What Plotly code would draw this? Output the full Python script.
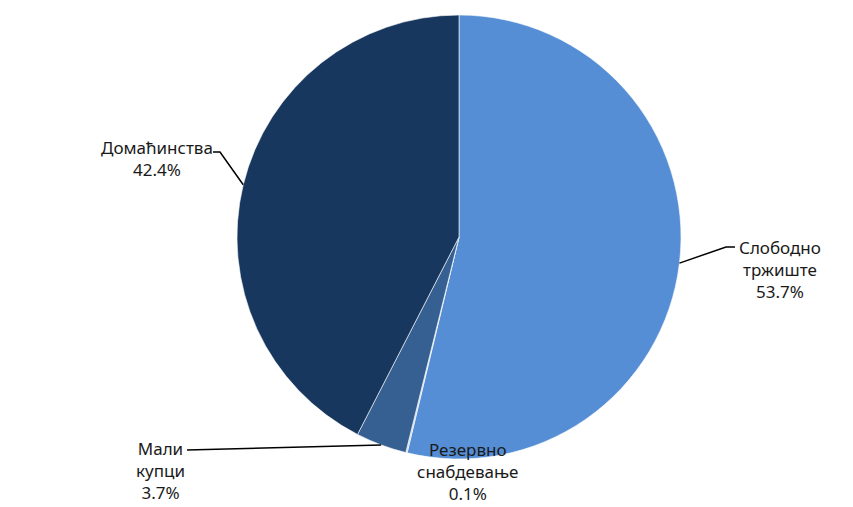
import math
import plotly.graph_objects as go

# Distribution of consumption by supply category
labels = ["Слободно тржиште", "Резервно снабдевање", "Мали купци", "Домаћинства"]
values = [53.7, 0.1, 3.7, 42.4]
label_text = ["Слободно<br>тржиште<br>53.7%", "Резервно<br>снабдевање<br>0.1%",
              "Мали<br>купци<br>3.7%", "Домаћинства<br>42.4%"]
colors = ["#558ED5", "#B9CDE5", "#376092", "#17375E"]

W, H = 853, 507
CX, CY, R = 459, 237, 222  # pie centre and radius in pixels

FONT = dict(family="Noto Sans, Open Sans, sans-serif", size=17, color="#1a1a1a")

fig = go.Figure(go.Pie(
    labels=labels,
    values=values,
    sort=False,
    direction="clockwise",
    rotation=0,
    marker=dict(colors=colors, line=dict(color="white", width=0.6)),
    textinfo="none",
    hoverinfo="label+percent",
    showlegend=False,
    domain=dict(x=[(CX - R) / W, (CX + R) / W], y=[1 - (CY + R) / H, 1 - (CY - R) / H]),
))


def px(x, y):
    return x / W, 1 - y / H


def edge_point(i):
    """Pixel point on the rim at the middle angle of slice i."""
    total = sum(values)
    start = sum(values[:i]) / total
    mid = (start + values[i] / total / 2) * 2 * math.pi
    return CX + R * math.sin(mid), CY - R * math.cos(mid)


# label placement: (text centre x, text centre y, elbow point, line end) in pixels
label_layout = [
    dict(pos=(780, 269), elbow=(726, 247), end=(735, 247)),
    dict(pos=(468, 471), elbow=None, end=None),
    dict(pos=(160, 470), elbow=None, end=(187, 450)),
    dict(pos=(157, 158), elbow=(220, 152), end=(213, 152)),
]

shapes = []
annotations = []
for i, lay in enumerate(label_layout):
    x, y = px(*lay["pos"])
    annotations.append(dict(x=x, y=y, xref="paper", yref="paper", text=label_text[i],
                            showarrow=False, font=FONT, align="center",
                            xanchor="center", yanchor="middle"))
    if lay["end"] is None:
        continue
    pts = [edge_point(i)]
    if lay["elbow"] is not None:
        pts.append(lay["elbow"])
    pts.append(lay["end"])
    path = "M " + " L ".join(f"{px(a, b)[0]:.5f},{px(a, b)[1]:.5f}" for a, b in pts)
    shapes.append(dict(type="path", path=path, xref="paper", yref="paper",
                       line=dict(color="black", width=1.5)))

fig.update_layout(
    width=W, height=H,
    margin=dict(l=0, r=0, t=0, b=0),
    paper_bgcolor="white", plot_bgcolor="white",
    shapes=shapes, annotations=annotations,
)

fig.write_html("out.html")
